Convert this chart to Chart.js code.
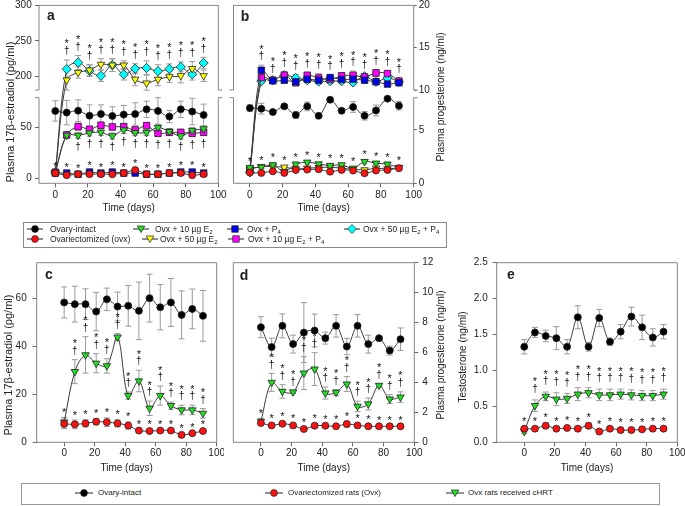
<!DOCTYPE html>
<html>
<head>
<meta charset="utf-8">
<script src="https://cdn.jsdelivr.net/npm/chart.js@4.4.1/dist/chart.umd.min.js"></script>
<style>
  body { margin: 0; background: #fff; font-family: 'Liberation Sans', Arial, sans-serif; color: #222; }
  #page { position: relative; width: 685px; height: 506px; overflow: hidden; }
  canvas { position: absolute; }
  .yt { position: absolute; white-space: nowrap; transform: translate(-50%, -50%) rotate(-90deg); font-size: 10px; line-height: 1; }
  .pl { position: absolute; font-weight: bold; font-size: 14px; transform: translate(-50%, -50%); line-height: 1; }
  .box { position: absolute; border: 1px solid #8a8a8a; box-sizing: border-box; }
  .lg { position: absolute; white-space: nowrap; transform: translateY(-50%); line-height: 1; font-size: 8.5px; }
  .lg sub { font-size: 6px; vertical-align: -2px; line-height: 0; }
  .lb { font-size: 8px; }
  svg { position: absolute; overflow: visible; }
</style>
</head>
<body>
<div id="page">
  <canvas id="ca" width="228" height="216" style="left:0;top:0"></canvas>
  <canvas id="cb" width="227" height="216" style="left:222px;top:0"></canvas>
  <canvas id="cc" width="224" height="222" style="left:0;top:255px"></canvas>
  <canvas id="cd" width="225" height="222" style="left:224px;top:255px"></canvas>
  <canvas id="ce" width="236" height="222" style="left:449px;top:255px"></canvas>

  <div class="yt" style="left:10px;top:112px;font-size:11px">Plasma 17β-estradiol (pg/ml)</div>
  <div class="yt" style="left:441px;top:97px">Plasma progesterone (ng/ml)</div>
  <div class="yt" style="left:8px;top:365px;font-size:11px">Plasma 17β-estradiol (pg/ml)</div>
  <div class="yt" style="left:441px;top:355px">Plasma progesterone (ng/ml)</div>
  <div class="yt" style="left:463px;top:357px">Testosterone (ng/ml)</div>

  <div class="pl" style="left:51px;top:15px">a</div>
  <div class="pl" style="left:245px;top:16px">b</div>
  <div class="pl" style="left:49px;top:274px">c</div>
  <div class="pl" style="left:244px;top:275px">d</div>
  <div class="pl" style="left:511px;top:274px">e</div>

  <div class="box" style="left:23px;top:222px;width:424px;height:26px"></div>
  <span class="lg" style="left:50px;top:229px">Ovary-intact</span>
  <span class="lg" style="left:155px;top:229px">Ovx + 10 µg E<sub>2</sub></span>
  <span class="lg" style="left:247px;top:229px">Ovx + P<sub>4</sub></span>
  <span class="lg" style="left:363px;top:229px">Ovx + 50 µg E<sub>2</sub> + P<sub>4</sub></span>
  <span class="lg" style="left:50px;top:238.5px">Ovariectomized (ovx)</span>
  <span class="lg" style="left:160px;top:238.5px">Ovx + 50 µg E<sub>2</sub></span>
  <span class="lg" style="left:248px;top:238.5px">Ovx + 10 µg E<sub>2</sub> + P<sub>4</sub></span>

  <div class="box" style="left:21px;top:483px;width:639px;height:22px;border-color:#999"></div>
  <span class="lg lb" style="left:98px;top:493px">Ovary-intact</span>
  <span class="lg lb" style="left:288px;top:493px">Ovariectomized rats (Ovx)</span>
  <span class="lg lb" style="left:468px;top:493px">Ovx rats received cHRT</span>
</div>
<script>
// sampling days and axis ticks
const days = [0, 7, 14, 21, 28, 35, 42, 49, 56, 63, 70, 77, 84, 91];
const xTicks = [0, 20, 40, 60, 80, 100];
const aYTicks = [0, 50, 200, 250, 300];
const bYTicks = [0, 5, 10, 15, 20];
const cYTicks = [0, 20, 40, 60];
const dYTicks = [0, 2, 4, 6, 8, 10, 12];
const eYTicks = [0, 0.5, 1.0, 1.5, 2.0, 2.5];

// panel a - estradiol (pg/ml)
const aIntact = [66, 64.4, 66.3, 61.4, 63, 61.1, 62.4, 63, 67.6, 66, 60.5, 67.6, 65.4, 62.1];
const aIntactErr = [10, 12, 10.6, 10.6, 9, 9, 9, 11, 8, 13, 6, 8, 13, 10.6];
const aOvx = [5, 3, 4, 4, 4, 4, 5, 8, 4, 4, 5, 5, 3, 4];
const aOvxErr = [1.5, 1, 1, 1, 1, 1, 1, 2, 1, 1, 1, 1, 1, 1];
const aE10 = [5.5, 42, 42, 44.4, 45, 41.5, 47.4, 44.8, 44.8, 49.7, 45.8, 41.5, 46.7, 48.4];
const aE10Err = [1.5, 3, 3, 3, 3, 3, 3.5, 3, 3, 3, 3, 3, 3, 3];
const aE50 = [5.5, 195, 205.6, 209, 217, 216, 216, 196, 190.7, 196, 199.5, 201, 211, 201];
const aE50Err = [1.5, 15, 8, 8, 8, 9, 6, 9, 12, 9, 8, 10, 10, 8];
const aP4 = [5, 5, 4, 6, 5, 6, 5, 5, 4, 4, 5, 6, 6, 5];
const aP4Err = [1, 1, 1, 1.5, 1, 1.5, 1, 1, 1, 1, 1, 1.5, 1.5, 1];
const aE10P4 = [5.9, 42.5, 50.6, 48, 52, 50.3, 50.6, 47.4, 51.6, 44, 45, 45, 44, 45];
const aE10P4Err = [1.5, 3, 3.5, 3, 3, 3, 3, 3, 3, 3, 3, 3, 3, 3];
const aE50P4 = [5.9, 210.3, 219.6, 208, 201, 216, 203, 211, 212, 207.5, 210.7, 213.5, 203, 219];
const aE50P4Err = [1.5, 13, 10, 8, 8, 9, 8, 7, 10, 9, 7, 7, 8, 8];

// panel b - progesterone (ng/ml)
const bIntact = [7.03, 6.97, 6.66, 7.19, 6.38, 7.19, 6.31, 7.81, 6.78, 7.13, 6.31, 6.81, 7.91, 7.25];
const bIntactErr = [0.3, 0.5, 0.2, 0.2, 0.3, 0.4, 0.2, 0.2, 0.2, 0.5, 0.4, 0.5, 0.2, 0.4];
const bOvx = [1.0, 0.97, 1.12, 0.97, 1.25, 1.28, 1.31, 1.09, 1.25, 1.19, 0.94, 1.19, 1.25, 1.41];
const bOvxErr = [0.12, 0.12, 0.15, 0.12, 0.15, 0.15, 0.15, 0.12, 0.15, 0.12, 0.15, 0.12, 0.12, 0.12];
const bE10 = [1.47, 1.5, 1.72, 1.09, 1.78, 1.97, 1.81, 1.66, 1.72, 1.41, 2.03, 1.88, 1.78, 1.47];
const bE10Err = [0.12, 0.15, 0.2, 0.15, 0.2, 0.15, 0.15, 0.2, 0.15, 0.15, 0.2, 0.15, 0.2, 0.15];
const bE50 = [1.31, 1.56, 1.56, 1.5, 1.34, 1.41, 1.47, 1.5, 1.41, 1.31, 1.25, 1.41, 1.34, 1.47];
const bE50Err = [0.12, 0.15, 0.15, 0.15, 0.15, 0.12, 0.15, 0.15, 0.12, 0.15, 0.12, 0.15, 0.12, 0.12];
const bP4 = [1.3, 12.33, 11.08, 11.16, 10.97, 11.28, 11.16, 11.47, 11.24, 11.28, 11.16, 10.97, 10.7, 10.85];
const bP4Err = [0.12, 0.6, 0.3, 0.3, 0.3, 0.35, 0.3, 0.3, 0.3, 0.35, 0.3, 0.3, 0.3, 0.3];
const bE10P4 = [1.2, 11.47, 11.16, 11.74, 10.85, 11.74, 11.43, 11.24, 11.67, 11.74, 11.55, 12.02, 11.94, 11.05];
const bE10P4Err = [0.12, 0.4, 0.3, 0.45, 0.3, 0.35, 0.5, 0.4, 0.4, 0.5, 0.4, 0.4, 0.35, 0.35];
const bE50P4 = [1.03, 11.05, 11.16, 11.74, 11.43, 11.16, 11.01, 11.05, 11.05, 10.89, 11.63, 10.97, 11.43, 10.97];
const bE50P4Err = [0.1, 0.3, 0.3, 0.3, 0.4, 0.3, 0.3, 0.3, 0.3, 0.3, 0.3, 0.3, 0.3, 0.3];

// panel c - estradiol, cHRT study
const cIntact = [58.4, 57.7, 57.7, 54.6, 59.7, 56.7, 57.0, 54.9, 60.2, 56.4, 58.4, 53.2, 55.7, 52.8];
const cIntactErr = [6.5, 7.5, 6.4, 8, 4.7, 6, 8.5, 12, 10, 9.5, 10, 10, 8.3, 10.6];
const cOvx = [7.7, 7.5, 7.9, 8.6, 8.4, 7.9, 7.0, 4.9, 4.7, 4.9, 4.9, 3.1, 3.8, 4.7];
const cOvxErr = [2, 1.8, 1.5, 1.3, 1.8, 1.5, 1.5, 0.6, 0.5, 0.6, 0.6, 0.4, 0.5, 0.5];
const cHrt = [8.4, 29.5, 36.5, 33, 31.9, 43.9, 19.5, 25.6, 14.2, 19.5, 15.3, 13.5, 13.5, 12.1];
const cHrtErr = [2, 5, 7.6, 4, 3, 1.5, 1.5, 4.5, 3, 4, 1.5, 2, 2, 2];

// panel d - progesterone, cHRT study
const dIntact = [7.69, 6.36, 7.78, 6.56, 7.33, 7.47, 6.96, 7.78, 6.4, 7.78, 6.56, 6.96, 6.13, 6.89];
const dIntactErr = [0.7, 0.6, 0.8, 0.6, 2.0, 1.1, 0.4, 0.75, 0.55, 0.75, 0.6, 0.1, 0.3, 0.75];
const dOvx = [1.29, 1.13, 1.24, 1.13, 0.89, 1.11, 1.11, 1.07, 1.22, 1.13, 1.07, 1.07, 1.07, 1.07];
const dOvxErr = [0.15, 0.1, 0.15, 0.12, 0.08, 0.12, 0.1, 0.1, 0.2, 0.12, 0.1, 0.08, 0.08, 0.08];
const dHrt = [1.4, 4.0, 3.4, 3.36, 4.62, 4.89, 3.29, 3.33, 3.89, 2.4, 2.56, 3.8, 2.89, 3.02];
const dHrtErr = [0.2, 0.6, 0.45, 0.1, 1.1, 1.1, 0.4, 0.2, 0.5, 0.35, 0.4, 0.1, 0.3, 0.35];

// panel e - testosterone
const eIntact = [1.33, 1.53, 1.48, 1.45, 1.33, 1.74, 1.33, 1.73, 1.40, 1.54, 1.75, 1.60, 1.46, 1.54];
const eIntactErr = [0.1, 0.07, 0.08, 0.16, 0.1, 0.16, 0.06, 0.12, 0.05, 0.1, 0.13, 0.17, 0.12, 0.1];
const eOvx = [0.19, 0.19, 0.23, 0.19, 0.20, 0.19, 0.23, 0.15, 0.19, 0.17, 0.17, 0.18, 0.19, 0.19];
const eOvxErr = [0.03, 0.03, 0.04, 0.03, 0.03, 0.03, 0.04, 0.03, 0.03, 0.03, 0.03, 0.03, 0.03, 0.03];
const eHrt = [0.15, 0.51, 0.64, 0.60, 0.61, 0.67, 0.69, 0.66, 0.66, 0.67, 0.66, 0.65, 0.65, 0.67];
const eHrtErr = [0.03, 0.08, 0.06, 0.09, 0.07, 0.09, 0.07, 0.08, 0.08, 0.07, 0.07, 0.07, 0.07, 0.07];

// significance marks per time point
const mStarAll = ['*', '*', '*', '*', '*', '*', '*', '*', '*', '*', '*', '*', '*', '*'];
const mStarLate = ['', '*', '*', '*', '*', '*', '*', '*', '*', '*', '*', '*', '*', '*'];
const mStarDag = ['', '*†', '*†', '*†', '*†', '*†', '*†', '*†', '*†', '*†', '*†', '*†', '*†', '*†'];
const mStarDag0 = ['*', '*†', '*†', '*†', '*†', '*†', '*†', '*†', '*†', '*†', '*†', '*†', '*†', '*†'];
const mDagLate = ['', '', '†', '†', '†', '†', '†', '†', '†', '†', '†', '†', '†', '†'];

const ST = {
  intact: { color: '#000000', shape: 'circle', r: 3.5 },
  ovx: { color: '#ff1010', shape: 'circle', r: 3.5 },
  e10: { color: '#1fe01f', shape: 'triangle', r: 4.3 },
  e50: { color: '#ffff00', shape: 'triangle', r: 4.3 },
  p4: { color: '#0000f0', shape: 'rect', r: 4.6 },
  e10p4: { color: '#ff00ff', shape: 'rect', r: 4.6 },
  e50p4: { color: '#00ffff', shape: 'rectRot', r: 4.6 }
};

// y axis with a gap between a low and a high segment
class BrokenScale extends Chart.LinearScale {
  getPixelForValue(value) {
    const b = this.options.brk;
    const lowTop = this.bottom - b.lowPx;
    const hiBot = lowTop - b.gapPx;
    if (value <= b.lowMax) return this.bottom - (value - this.min) / (b.lowMax - this.min) * b.lowPx;
    if (value >= b.highMin) return hiBot - (value - b.highMin) / (this.max - b.highMin) * (hiBot - this.top);
    return lowTop - (value - b.lowMax) / (b.highMin - b.lowMax) * b.gapPx;
  }
}
BrokenScale.id = 'broken';
BrokenScale.defaults = Chart.LinearScale.defaults;
Chart.register(BrokenScale);

Chart.defaults.font.family = "'Liberation Sans', Arial, sans-serif";
Chart.defaults.font.size = 10;
Chart.defaults.color = '#222';

const marksById = {};

function glyph(ctx, ch, x, y) {
  if (ch === '*') {
    ctx.font = "11px 'Liberation Sans', Arial";
    ctx.fillText('*', x, y + 2.5);
  } else {
    ctx.font = "10px 'Liberation Sans', Arial";
    ctx.fillText('†', x, y);
  }
}

const extras = {
  id: 'extras',
  beforeDatasetsDraw(chart) {
    const ctx = chart.ctx, a = chart.chartArea;
    const x = chart.scales.x, y = chart.scales.y;
    const brk = y.options.brk;
    ctx.save();
    ctx.strokeStyle = '#858585';
    ctx.lineWidth = 1;
    ctx.beginPath();
    ctx.moveTo(a.left, a.top); ctx.lineTo(a.right, a.top);
    ctx.moveTo(a.left, a.bottom); ctx.lineTo(a.right, a.bottom);
    if (brk) {
      const lowTop = a.bottom - brk.lowPx, hiBot = lowTop - brk.gapPx;
      [a.left, a.right].forEach((px, k) => {
        const out = k ? 4 : -4;
        ctx.moveTo(px, a.top); ctx.lineTo(px, hiBot);
        ctx.moveTo(px, lowTop); ctx.lineTo(px, a.bottom);
        ctx.moveTo(px, hiBot); ctx.lineTo(px + out, hiBot);
        ctx.moveTo(px, lowTop); ctx.lineTo(px + out, lowTop);
      });
    } else {
      ctx.moveTo(a.left, a.top); ctx.lineTo(a.left, a.bottom);
      ctx.moveTo(a.right, a.top); ctx.lineTo(a.right, a.bottom);
    }
    ctx.stroke();

    // error bars
    ctx.beginPath();
    ctx.rect(a.left, a.top - 2, a.right - a.left, a.bottom - a.top + 4);
    ctx.clip();
    ctx.strokeStyle = '#9a9a9a';
    ctx.beginPath();
    chart.data.datasets.forEach(ds => {
      ds.data.forEach((p, i) => {
        const e = ds.err[i];
        if (!e) return;
        const px = x.getPixelForValue(p.x);
        const t = y.getPixelForValue(p.y + e), b = y.getPixelForValue(p.y - e);
        ctx.moveTo(px, t); ctx.lineTo(px, b);
        ctx.moveTo(px - 3, t); ctx.lineTo(px + 3, t);
        ctx.moveTo(px - 3, b); ctx.lineTo(px + 3, b);
      });
    });
    ctx.stroke();
    ctx.restore();
  },
  afterDatasetsDraw(chart) {
    const ctx = chart.ctx;
    const x = chart.scales.x, y = chart.scales.y;
    const marks = marksById[chart.canvas.id] || [];
    ctx.save();
    ctx.fillStyle = '#111';
    ctx.textAlign = 'center';
    ctx.textBaseline = 'middle';
    marks.forEach(m => {
      const sets = m.sets.map(k => chart.data.datasets[k]);
      m.text.forEach((str, i) => {
        if (!str) return;
        const px = x.getPixelForValue(days[i]);
        if (m.side === 'below') {
          let yy = Math.max(...sets.map(ds => y.getPixelForValue(ds.data[i].y - ds.err[i]))) + m.gap;
          for (const ch of str) {
            const h = ch === '*' ? 8 : 11;
            glyph(ctx, ch, px, yy + h / 2);
            yy += h;
          }
        } else {
          let yy = Math.min(...sets.map(ds => y.getPixelForValue(ds.data[i].y + ds.err[i]))) - m.gap;
          for (const ch of [...str].reverse()) {
            const h = ch === '*' ? 8 : 11;
            glyph(ctx, ch, px, yy - h / 2);
            yy -= h;
          }
        }
      });
    });
    ctx.restore();
  }
};

function series(vals, err, st) {
  return {
    data: days.map((d, i) => ({ x: d, y: vals[i] })),
    err: err,
    borderColor: '#3a3a3a',
    borderWidth: 1,
    tension: 0.35,
    pointStyle: st.shape,
    pointRotation: st.shape === 'triangle' ? 180 : 0,
    pointRadius: st.r,
    pointBackgroundColor: st.color,
    pointBorderColor: '#222',
    pointBorderWidth: 0.8
  };
}

function makeChart(id, c) {
  marksById[id] = c.marks;
  return new Chart(document.getElementById(id), {
    type: 'line',
    data: { datasets: c.sets },
    options: {
      responsive: false,
      animation: false,
      events: [],
      layout: { padding: c.pad },
      plugins: { legend: { display: false }, tooltip: { enabled: false } },
      scales: {
        x: {
          type: 'linear', min: c.xMin, max: 100,
          afterBuildTicks: s => { s.ticks = xTicks.map(v => ({ value: v })); },
          afterFit: s => { s.height = c.xH; s.paddingLeft = 0; s.paddingRight = 0; },
          grid: { drawOnChartArea: false, tickLength: 4, color: '#666' },
          border: { display: false },
          ticks: { padding: c.xPad, autoSkip: false, maxRotation: 0 },
          title: { display: true, text: 'Time (days)', padding: { top: 0, bottom: c.xTitlePad } }
        },
        y: {
          type: c.brk ? 'broken' : 'linear',
          position: c.yPos,
          min: c.yMin, max: c.yMax,
          brk: c.brk,
          afterBuildTicks: s => { s.ticks = c.yTicks.map(v => ({ value: v })); },
          afterFit: s => { s.width = c.yW; s.paddingTop = 0; s.paddingBottom = 0; },
          grid: { drawOnChartArea: false, tickLength: c.yTick, color: '#666' },
          border: { display: false },
          ticks: { padding: c.yPad, autoSkip: false, callback: c.yFmt || (v => v) }
        }
      }
    },
    plugins: [extras]
  });
}

makeChart('ca', {
  sets: [series(aIntact, aIntactErr, ST.intact), series(aOvx, aOvxErr, ST.ovx), series(aE10, aE10Err, ST.e10),
         series(aE50, aE50Err, ST.e50), series(aP4, aP4Err, ST.p4), series(aE10P4, aE10P4Err, ST.e10p4),
         series(aE50P4, aE50P4Err, ST.e50p4)],
  yPos: 'left', yMin: -5, yMax: 300, yTicks: aYTicks,
  brk: { lowMax: 79, highMin: 181, lowPx: 85.6, gapPx: 7.7 },
  yW: 39, yTick: 4, yPad: 3.3,
  xMin: -10, xH: 32.7, xPad: 2, xTitlePad: 1.7,
  pad: { left: 0, top: 3.5, right: 9.7, bottom: 0 },
  marks: [
    { sets: [3, 6], text: mStarDag, side: 'above', gap: 3 },
    { sets: [2, 5], text: mDagLate, side: 'below', gap: 3 },
    { sets: [1, 4], text: mStarAll, side: 'above', gap: 3 }
  ]
});

makeChart('cb', {
  sets: [series(bIntact, bIntactErr, ST.intact), series(bOvx, bOvxErr, ST.ovx), series(bE10, bE10Err, ST.e10),
         series(bE50, bE50Err, ST.e50), series(bP4, bP4Err, ST.p4), series(bE10P4, bE10P4Err, ST.e10p4),
         series(bE50P4, bE50P4Err, ST.e50p4)],
  yPos: 'right', yMin: 0, yMax: 20, yTicks: bYTicks,
  brk: { lowMax: 8, highMin: 10, lowPx: 85.6, gapPx: 7.7 },
  yW: 35.3, yTick: 3, yPad: 2,
  xMin: -10, xH: 32.7, xPad: 2, xTitlePad: 1.7,
  pad: { left: 11.5, top: 3.5, right: 0, bottom: 0 },
  marks: [
    { sets: [4, 5, 6], text: mStarDag, side: 'above', gap: 3 },
    { sets: [1, 2, 3], text: mStarAll, side: 'above', gap: 3 }
  ]
});

makeChart('cc', {
  sets: [series(cIntact, cIntactErr, ST.intact), series(cOvx, cOvxErr, ST.ovx), series(cHrt, cHrtErr, ST.e10)],
  yPos: 'left', yMin: 0, yMax: 75, yTicks: cYTicks,
  yW: 36.7, yTick: 4, yPad: 6,
  xMin: -18, xH: 34.7, xPad: 1, xTitlePad: 2.7,
  pad: { left: 0, top: 7.7, right: 7.3, bottom: 0 },
  marks: [
    { sets: [2], text: mStarDag0, side: 'above', gap: 3 },
    { sets: [1], text: mStarLate, side: 'above', gap: 3 }
  ]
});

makeChart('cd', {
  sets: [series(dIntact, dIntactErr, ST.intact), series(dOvx, dOvxErr, ST.ovx), series(dHrt, dHrtErr, ST.e10)],
  yPos: 'right', yMin: 0, yMax: 12, yTicks: dYTicks,
  yW: 34.7, yTick: 4, yPad: 4,
  xMin: -18, xH: 34.7, xPad: 1, xTitlePad: 2.7,
  pad: { left: 9.3, top: 7.7, right: 0, bottom: 0 },
  marks: [
    { sets: [2], text: mStarDag0, side: 'above', gap: 3 },
    { sets: [1], text: mStarLate, side: 'above', gap: 3 }
  ]
});

makeChart('ce', {
  sets: [series(eIntact, eIntactErr, ST.intact), series(eOvx, eOvxErr, ST.ovx), series(eHrt, eHrtErr, ST.e10)],
  yPos: 'left', yMin: 0, yMax: 2.5, yTicks: eYTicks, yFmt: v => v.toFixed(1),
  yW: 47.7, yTick: 4, yPad: 5,
  xMin: -18, xH: 34.7, xPad: 1, xTitlePad: 2.7,
  pad: { left: 0, top: 7.7, right: 7.7, bottom: 0 },
  marks: [
    { sets: [2], text: mStarDag, side: 'above', gap: 5 },
    { sets: [1], text: mStarAll, side: 'above', gap: 3 }
  ]
});

// legend icons: line with a marker
const page = document.getElementById('page');
function icon(shape, color, cx, cy, half) {
  const s = 'fill="' + color + '" stroke="#222" stroke-width="0.7"';
  let m;
  if (shape === 'circle') m = '<circle cx="' + half + '" cy="6" r="3.4" ' + s + '/>';
  else if (shape === 'triangle') m = '<polygon points="' + (half - 3.8) + ',3 ' + (half + 3.8) + ',3 ' + half + ',9.6" ' + s + '/>';
  else if (shape === 'rect') m = '<rect x="' + (half - 3.2) + '" y="2.8" width="6.4" height="6.4" ' + s + '/>';
  else m = '<polygon points="' + half + ',1.5 ' + (half + 4.5) + ',6 ' + half + ',10.5 ' + (half - 4.5) + ',6" ' + s + '/>';
  page.insertAdjacentHTML('beforeend',
    '<svg style="left:' + (cx - half) + 'px;top:' + (cy - 6) + 'px" width="' + (2 * half) + '" height="12">' +
    '<line x1="0" y1="6" x2="' + (2 * half) + '" y2="6" stroke="#222" stroke-width="1"/>' + m + '</svg>');
}
icon('circle', ST.intact.color, 35, 229, 8);
icon('triangle', ST.e10.color, 141, 229, 8);
icon('rect', ST.p4.color, 235, 229, 8);
icon('rectRot', ST.e50p4.color, 352, 229, 8);
icon('circle', ST.ovx.color, 35, 238.5, 8);
icon('triangle', ST.e50.color, 150, 238.5, 8);
icon('rect', ST.e10p4.color, 236, 238.5, 8);
icon('circle', ST.intact.color, 84, 493, 9);
icon('circle', ST.ovx.color, 274, 493, 9);
icon('triangle', ST.e10.color, 455, 493, 9);
</script>
</body>
</html>
